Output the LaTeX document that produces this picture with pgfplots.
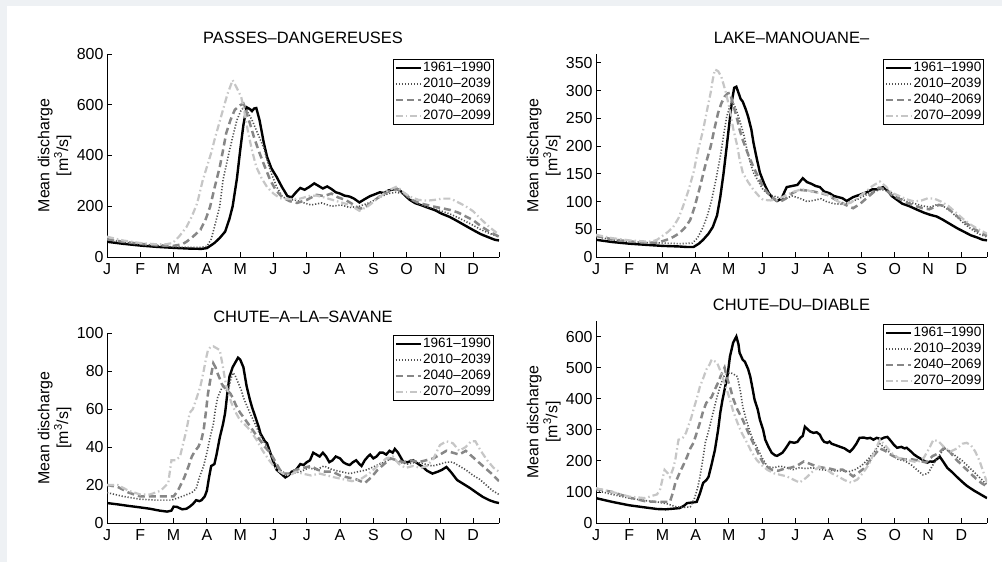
\documentclass[border=0pt]{standalone}
\usepackage{fontspec}
\setmainfont{Liberation Sans}
\usepackage{pgfplots}
\pgfplotsset{compat=1.18}

\definecolor{bgcol}{RGB}{238,241,244}
\definecolor{gdot}{RGB}{80,80,80}
\definecolor{gdash}{RGB}{135,135,135}
\definecolor{gdd}{RGB}{198,198,198}

\newcommand{\bigf}{\fontsize{16}{19}\selectfont}

\pgfplotsset{
  s1/.style={black, line width=2.4bp, solid},
  s2/.style={gdot, line width=1.6bp, dash pattern=on 1.2bp off 1.8bp},
  s3/.style={gdash, line width=2.5bp, dash pattern=on 7bp off 4bp},
  s4/.style={gdd, line width=2.2bp, dash pattern=on 7bp off 3bp on 1.5bp off 3bp},
  panel/.style={
    scale only axis, width=392bp, anchor=south west,
    xmin=0, xmax=365, ymin=0,
    axis x line*=bottom, axis y line*=left,
    axis line style={line width=0.8bp, -},
    tick align=inside, major tick length=5bp,
    tick style={line width=0.8bp, black},
    xtick={0,31,...,341,365},
    xticklabels={J,F,M,A,M,J,J,A,S,O,N,D,{}},
    tick label style={font=\bigf},
    xticklabel style={yshift=-3bp},
    /pgf/number format/assume math mode=true,
    ylabel={Mean discharge\\{[m\textsuperscript{3}/s]}},
    ylabel style={font=\bigf, align=center, at={(axis description cs:-0.09,0.5)}, anchor=south, inner sep=0pt},
    title style={font=\fontsize{16.5}{19}\selectfont, at={(axis description cs:0.5,1)}, anchor=base, yshift=5bp, inner sep=0pt},
    legend cell align=left,
    legend style={anchor=north east, draw=black, line width=0.9bp,
      font=\fontsize{13.6}{15}\selectfont, inner xsep=1.5bp, inner ysep=1bp, row sep=1bp,
      nodes={inner sep=1bp, text height=10bp, text depth=3bp}},
    legend image code/.code={\draw[#1] (0bp,0bp) -- (25bp,0bp);},
  }
}

\begin{document}
\begin{tikzpicture}[x=1bp,y=1bp]
\fill[bgcol] (0,0) rectangle (1002,562);
\fill[white] (7,0) rectangle (1002,556);
\useasboundingbox (0,0) rectangle (1002,562);

% ---------- PASSES-DANGEREUSES ----------
\begin{axis}[panel, at={(107bp,305bp)}, height=203bp, ymax=800,
  ytick={0,200,...,800}, title={PASSES–DANGEREUSES},
  legend style={at={(axis description cs:0.987,0.975)}}]
\addplot[s1] coordinates {(0,60)(15,52)(31,45)(46,40)(62,36)(77,33)(88,32)(93,35)(100,55)(105,75)(110,100)(114,150)(117,200)(121,310)(124,420)(127,520)(130,590)(133,583)(135,575)(137,585)(139,587)(142,540)(146,450)(149,395)(153,350)(158,315)(163,275)(168,240)(172,235)(176,255)(180,272)(184,265)(188,275)(193,290)(197,280)(201,270)(205,278)(209,268)(213,255)(217,250)(221,242)(226,238)(230,230)(235,215)(240,228)(245,240)(250,248)(254,255)(258,252)(262,262)(266,266)(270,268)(274,258)(278,240)(282,225)(287,212)(292,205)(297,197)(305,185)(312,170)(319,158)(326,142)(333,125)(341,106)(348,90)(355,78)(361,68)(365,65)};
\addplot[s2] coordinates {(0,70)(15,58)(31,50)(46,45)(62,40)(77,38)(88,38)(93,42)(97,70)(100,118)(105,200)(108,303)(113,400)(117,473)(121,540)(125,580)(128,590)(131,570)(135,540)(138,510)(142,470)(146,430)(149,382)(153,330)(158,276)(163,240)(168,225)(175,225)(182,215)(190,205)(200,213)(209,200)(218,205)(226,195)(235,200)(245,215)(254,236)(262,250)(269,255)(275,250)(282,228)(290,210)(297,198)(305,190)(312,180)(319,170)(327,155)(334,140)(341,125)(348,108)(355,95)(365,79)};
\addplot[s3] coordinates {(0,70)(15,60)(31,52)(46,46)(62,44)(70,50)(74,60)(80,80)(87,107)(92,150)(96,198)(100,270)(105,355)(108,420)(111,488)(115,540)(119,580)(124,598)(127,605)(130,570)(133,527)(137,470)(142,410)(147,355)(152,303)(157,265)(163,236)(170,220)(177,213)(186,225)(195,245)(202,240)(209,250)(215,235)(222,225)(230,205)(235,190)(240,195)(248,220)(256,245)(264,262)(270,268)(277,250)(284,225)(291,212)(298,205)(305,198)(312,192)(320,185)(327,175)(334,160)(341,145)(348,122)(356,100)(365,80)};
\addplot[s4] coordinates {(0,80)(15,65)(31,55)(46,50)(55,50)(61,55)(67,80)(74,118)(79,160)(84,212)(89,300)(93,355)(97,410)(100,460)(104,520)(108,580)(112,640)(117,697)(121,665)(125,630)(128,570)(131,500)(135,420)(139,355)(144,310)(149,276)(155,250)(161,232)(170,228)(180,230)(188,240)(195,242)(202,235)(210,225)(218,215)(226,205)(235,182)(243,200)(252,230)(260,258)(266,270)(270,278)(276,255)(282,238)(290,225)(298,222)(305,225)(312,230)(320,230)(327,215)(334,200)(341,180)(348,150)(356,118)(365,88)};
\legend{1961–1990,2010–2039,2040–2069,2070–2099}
\end{axis}

% ---------- LAKE-MANOUANE- ----------
\begin{axis}[panel, at={(596bp,305bp)}, width=391bp, height=203bp, ymax=366,
  ytick={0,50,...,350}, title={LAKE–MANOUANE–},
  legend style={at={(axis description cs:0.993,0.975)}}]
\addplot[s1] coordinates {(0,31)(15,27)(31,24)(46,22)(62,20)(77,19)(85,18)(91,18)(96,24)(100,31)(105,42)(109,54)(113,75)(116,108)(119,150)(122,199)(125,250)(127,283)(129,305)(131,307)(133,296)(135,285)(137,280)(140,265)(142,253)(145,230)(147,206)(150,178)(153,152)(157,132)(161,116)(165,106)(169,101)(173,105)(178,126)(183,128)(188,130)(193,142)(197,135)(201,132)(205,128)(209,126)(213,118)(218,115)(222,110)(226,108)(230,106)(234,101)(240,108)(246,112)(253,117)(258,122)(263,122)(268,126)(272,120)(276,110)(281,103)(286,96)(292,92)(300,85)(306,80)(312,76)(318,73)(323,68)(330,60)(337,52)(344,45)(350,39)(356,35)(361,31)(365,30)};
\addplot[s2] coordinates {(0,37)(15,31)(31,28)(46,26)(62,25)(77,24)(90,25)(95,35)(100,54)(104,75)(108,103)(112,140)(116,181)(119,218)(122,253)(125,272)(128,278)(131,265)(134,247)(138,220)(141,193)(144,170)(147,152)(152,135)(156,121)(162,112)(169,108)(176,105)(183,110)(190,106)(197,100)(203,102)(210,105)(215,100)(222,96)(230,95)(236,98)(244,104)(252,112)(258,117)(266,122)(274,118)(282,108)(290,100)(298,96)(305,92)(312,90)(318,94)(324,92)(331,82)(338,70)(345,58)(352,48)(358,41)(365,36)};
\addplot[s3] coordinates {(0,38)(15,32)(31,28)(46,26)(58,26)(66,31)(72,36)(78,43)(84,55)(88,67)(92,90)(97,126)(102,165)(107,199)(111,235)(114,260)(117,277)(120,289)(123,295)(125,296)(128,275)(132,247)(134,230)(137,211)(142,185)(147,162)(152,142)(156,126)(160,116)(164,108)(168,102)(171,99)(177,105)(183,115)(190,121)(196,120)(203,118)(210,115)(216,112)(222,105)(229,98)(235,92)(240,88)(246,95)(252,105)(258,115)(264,125)(270,122)(276,112)(283,105)(290,98)(298,92)(305,88)(311,86)(316,90)(320,94)(325,92)(331,84)(338,72)(345,62)(352,52)(358,45)(365,38)};
\addplot[s4] coordinates {(0,40)(15,34)(31,30)(46,28)(52,28)(57,31)(62,38)(67,45)(72,54)(77,70)(81,90)(86,118)(91,152)(95,190)(100,229)(104,268)(107,296)(109,320)(111,338)(114,335)(117,325)(121,298)(125,265)(128,232)(132,199)(134,176)(137,152)(142,135)(147,121)(152,110)(156,103)(163,102)(170,104)(178,112)(185,118)(192,122)(198,120)(205,116)(212,115)(219,110)(226,100)(232,95)(238,98)(245,108)(252,118)(258,128)(265,136)(270,128)(276,116)(283,110)(290,104)(297,100)(304,102)(310,106)(316,105)(322,100)(329,92)(336,80)(343,68)(350,58)(357,50)(365,42)};
\legend{1961–1990,2010–2039,2040–2069,2070–2099}
\end{axis}

% ---------- CHUTE-A-LA-SAVANE ----------
\begin{axis}[panel, at={(107bp,39bp)}, height=190bp, ymax=100,
  ytick={0,20,...,100}, title={CHUTE–A–LA–SAVANE},
  legend style={at={(axis description cs:0.987,0.99)}}]
\addplot[s1] coordinates {(0,10.5)(10,9.8)(20,9)(31,8.2)(40,7.5)(49,6.5)(56,6)(60,6.5)(62,8.6)(65,8.5)(70,7.2)(74,7.5)(77,8.6)(80,10)(83,12)(86,11.5)(88,12)(91,14)(93,17)(95,24)(97,30)(100,31)(102,36)(105,45)(108,52)(110,58)(112,68)(114,77)(117,82)(119,84)(122,87)(124,86)(127,82)(130,72)(133,65)(135,61)(138,56)(141,51)(143,47)(145,45)(147,43)(149,42)(152,37)(155,32)(158,28)(162,26)(166,24)(169,25)(172,27)(176,28)(180,31)(183,30.5)(186,32)(189,33)(192,37)(195,36)(198,35)(201,37)(204,35)(207,32)(210,33)(213,35)(217,34)(220,32)(223,31)(226,30.5)(229,32)(232,33)(235,31)(237,30)(240,33)(243,35)(245,36)(248,34)(251,35)(254,37)(257,37)(260,36)(263,38)(266,37)(268,39)(271,37)(274,34)(276,32)(280,32)(285,33)(290,31)(294,29.5)(298,27.5)(303,26)(308,27)(312,28)(316,29.5)(320,27)(326,22.6)(332,20.5)(338,18.4)(344,16)(350,13.7)(356,12)(361,11)(365,10.5)};
\addplot[s2] coordinates {(0,16)(15,14)(31,12.5)(46,12)(60,12)(70,14)(79,16)(83,18)(86,24)(90,30)(93,37)(96,45)(99,52)(101,60)(103,66)(106,70)(108,72)(111,70)(113,70)(115,75)(117,79)(119,78)(122,74)(125,70)(127,66)(130,62)(133,58)(138,52)(142,47)(147,42)(152,37)(156,32)(161,28)(166,26)(172,26)(180,27)(188,29)(195,28)(202,30)(210,28)(218,27)(226,26)(234,27)(242,28)(250,30)(258,32)(265,34)(272,32)(280,31)(288,32)(296,31)(303,30)(310,31)(316,32)(322,32)(328,30)(334,28)(341,25)(347,23)(353,20)(359,17)(365,15)};
\addplot[s3] coordinates {(0,20)(10,19)(20,16)(31,14)(46,14)(55,14)(62,14)(66,17)(72,24)(76,30)(79,35)(82,38)(85,40)(88,44)(90,49)(92,58)(94,68)(97,78)(99,84)(101,82)(102,80)(105,76)(107,73)(110,71)(112,70)(115,68)(117,66)(120,62)(124,58)(128,55)(133,51)(138,47)(142,44)(147,40)(152,37)(157,32)(163,26)(170,26)(176,28)(183,29)(190,30)(196,28)(203,27)(210,27)(217,25)(224,24)(232,23)(240,21)(246,24)(252,28)(258,31)(264,34)(270,33)(276,32)(283,33)(290,32)(297,33)(304,34)(310,36)(316,38)(322,37)(328,36)(334,38)(340,35)(346,32)(352,29)(358,26)(365,22)};
\addplot[s4] coordinates {(0,20)(10,20)(20,17)(31,15)(40,15)(50,17)(57,21)(60,33)(64,33)(68,35)(71,42)(74,49)(77,58)(80,60)(83,65)(87,72)(90,80)(92,86)(94,91)(97,93)(99,93)(102,92)(105,91)(108,82)(110,75)(113,68)(116,63)(120,58)(124,54)(128,52)(133,49)(139,44)(145,38)(151,33)(158,28)(164,26)(170,25)(176,27)(182,26)(190,25)(198,26)(205,25)(212,24)(220,23)(228,22)(236,23)(244,26)(252,30)(260,34)(266,35)(272,31)(278,29)(285,30)(292,29)(298,30)(304,34)(310,41)(316,43)(322,42)(328,38)(334,40)(339,43)(343,43)(348,38)(354,33)(360,29)(365,27)};
\legend{1961–1990,2010–2039,2040–2069,2070–2099}
\end{axis}

% ---------- CHUTE-DU-DIABLE ----------
\begin{axis}[panel, at={(596bp,39bp)}, width=391bp, height=202bp, ymax=650,
  ytick={0,100,...,600}, title={CHUTE–DU–DIABLE},
  legend style={at={(axis description cs:0.993,0.985)}}]
\addplot[s1] coordinates {(0,80)(15,68)(31,57)(46,50)(57,45)(65,44)(72,46)(78,48)(82,55)(85,64)(90,66)(94,68)(97,95)(100,129)(103,138)(105,148)(108,190)(111,235)(114,300)(116,355)(118,395)(120,429)(123,480)(125,535)(128,580)(131,600)(133,575)(134,548)(137,525)(139,519)(142,495)(144,471)(146,435)(148,397)(151,365)(153,332)(156,300)(158,268)(161,245)(164,226)(167,218)(169,216)(172,222)(174,226)(177,240)(181,261)(185,258)(188,261)(191,275)(193,280)(195,310)(198,300)(200,294)(203,290)(206,292)(209,284)(211,270)(213,261)(216,258)(218,262)(220,255)(224,250)(228,245)(232,240)(235,233)(237,229)(240,240)(243,255)(246,274)(250,275)(253,272)(256,274)(259,268)(262,274)(266,270)(269,275)(272,277)(275,265)(278,252)(281,242)(285,245)(288,240)(290,242)(294,230)(297,220)(300,213)(304,205)(309,194)(312,198)(315,197)(318,205)(321,213)(324,198)(328,177)(332,165)(337,148)(342,132)(346,120)(349,113)(353,104)(357,96)(360,90)(363,84)(365,80)};
\addplot[s2] coordinates {(0,105)(15,92)(31,80)(46,72)(57,68)(66,62)(75,52)(82,50)(88,52)(92,80)(95,115)(97,148)(100,210)(102,258)(105,295)(107,323)(110,365)(113,406)(116,440)(119,471)(122,480)(125,484)(128,480)(132,471)(135,420)(137,374)(140,335)(144,290)(147,265)(150,245)(155,210)(160,181)(166,178)(172,183)(178,178)(184,172)(190,178)(196,175)(202,178)(208,172)(215,170)(222,168)(230,168)(236,165)(242,172)(248,185)(254,205)(260,230)(265,255)(270,240)(276,220)(282,205)(288,200)(294,188)(300,170)(305,155)(310,160)(315,190)(320,215)(325,240)(330,230)(336,215)(342,200)(348,180)(354,160)(360,140)(365,122)};
\addplot[s3] coordinates {(0,110)(15,100)(31,82)(46,70)(57,68)(63,68)(69,68)(72,100)(74,129)(78,161)(82,190)(85,213)(88,240)(91,258)(94,290)(97,323)(100,360)(103,387)(106,398)(108,406)(111,430)(114,452)(117,478)(120,500)(122,470)(125,439)(128,400)(132,365)(135,345)(137,332)(141,300)(144,277)(147,255)(150,235)(153,212)(156,194)(160,180)(164,171)(170,168)(176,175)(182,178)(188,185)(194,198)(200,190)(206,182)(212,178)(218,175)(224,170)(230,172)(236,160)(240,150)(245,162)(250,175)(255,198)(260,220)(265,240)(270,232)(276,218)(282,208)(288,205)(295,205)(302,200)(308,195)(314,215)(320,225)(325,242)(330,230)(336,205)(342,185)(348,165)(354,145)(360,128)(365,118)};
\addplot[s4] coordinates {(0,112)(15,100)(31,85)(46,80)(53,88)(57,92)(60,110)(64,171)(67,160)(69,148)(72,175)(74,203)(77,268)(79,270)(81,274)(84,290)(86,310)(89,340)(91,365)(94,400)(97,439)(100,465)(103,494)(106,510)(108,526)(111,520)(113,516)(116,490)(119,461)(122,430)(125,397)(128,360)(132,323)(136,290)(141,258)(145,230)(150,203)(155,185)(160,171)(166,160)(172,155)(178,150)(184,140)(190,130)(196,145)(202,165)(208,180)(214,175)(220,160)(226,150)(232,138)(238,130)(244,140)(250,165)(255,190)(260,230)(265,268)(270,250)(276,225)(282,210)(288,205)(294,200)(300,195)(306,210)(311,240)(315,268)(320,262)(326,240)(331,230)(337,240)(342,255)(346,258)(350,250)(354,230)(358,200)(362,160)(365,130)};
\legend{1961–1990,2010–2039,2040–2069,2070–2099}
\end{axis}
\end{tikzpicture}
\end{document}
